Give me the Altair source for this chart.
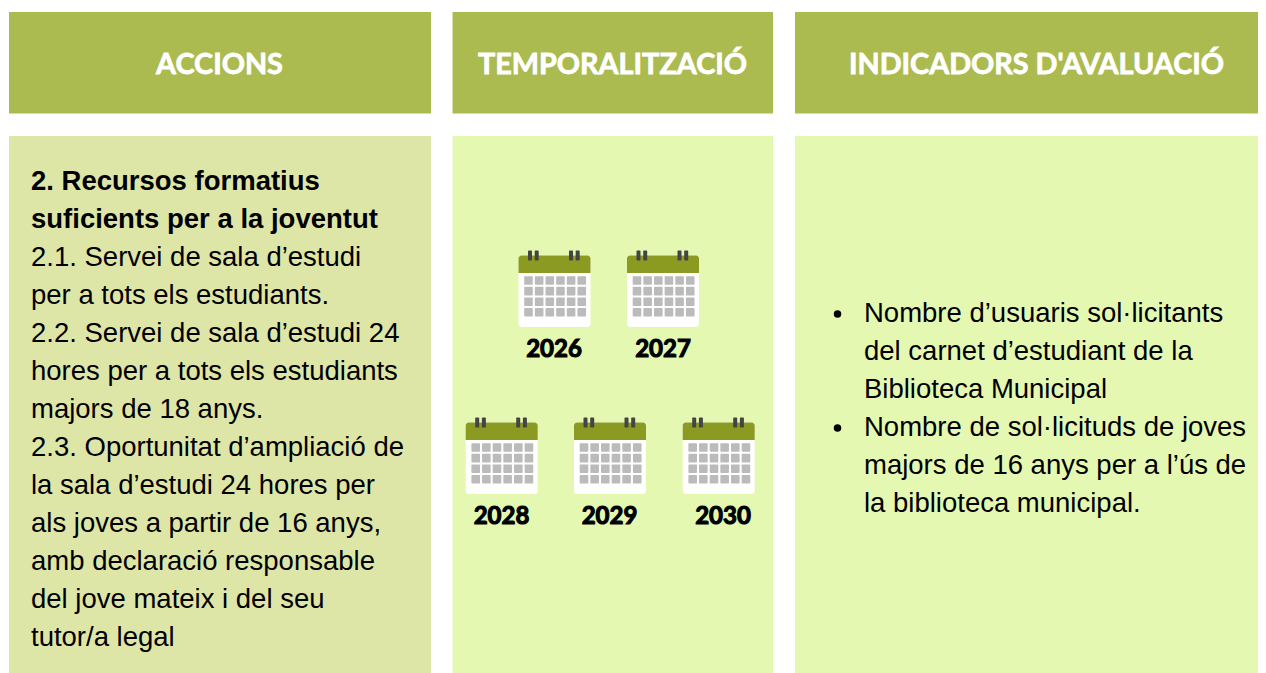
import altair as alt
import pandas as pd

# ---- content ----
headers = ["ACCIONS", "TEMPORALITZACIÓ", "INDICADORS D'AVALUACIÓ"]
action_title = ["2. Recursos formatius", "suficients per a la joventut"]
action_lines = [
    "2.1. Servei de sala d’estudi",
    "per a tots els estudiants.",
    "2.2. Servei de sala d’estudi 24",
    "hores per a tots els estudiants",
    "majors de 18 anys.",
    "2.3. Oportunitat d’ampliació de",
    "la sala d’estudi 24 hores per",
    "als joves a partir de 16 anys,",
    "amb declaració responsable",
    "del jove mateix i del seu",
    "tutor/a legal",
]
indicator_lines = [
    "Nombre d’usuaris sol·licitants",
    "del carnet d’estudiant de la",
    "Biblioteca Municipal",
    "Nombre de sol·licituds de joves",
    "majors de 16 anys per a l’ús de",
    "la biblioteca municipal.",
]
bullet_line_index = [0, 3]
years = ["2026", "2027", "2028", "2029", "2030"]

# ---- layout (page pixels) ----
L, R, T, B = 8, 1258, 8, 673   # the page caps the svg at 1250 px wide
W, H = R - L, B - T
col_edges = [(9, 431), (452.5, 773), (795, 1266)]
head_centres = [219.5, 612.5, 1036.5]
HEAD_TOP, HEAD_BOTTOM, BODY_TOP = 12, 113.5, 136
LINE = 38
cal_origin = [(518.5, 255.5), (627, 255.5), (465.7, 422.5), (574, 422.5), (682.7, 422.5)]
year_pos = [(554, 356.5), (663, 356.5), (501.5, 523.5), (609.5, 523.5), (723, 523.5)]

x_scale = alt.Scale(domain=[L, R], nice=False, zero=False)
y_scale = alt.Scale(domain=[B, T], nice=False, zero=False)
X = alt.X("x:Q", scale=x_scale, axis=None)
Y = alt.Y("y:Q", scale=y_scale, axis=None)


def rects(rows, **mark):
    df = pd.DataFrame(rows, columns=["x", "x2", "y", "y2", "c"])
    return (
        alt.Chart(df)
        .mark_rect(**mark)
        .encode(x=X, x2="x2:Q", y=Y, y2="y2:Q", color=alt.Color("c:N", scale=None))
    )


def texts(rows, **mark):
    df = pd.DataFrame(rows, columns=["x", "y", "t"])
    return alt.Chart(df).mark_text(**mark).encode(x=X, y=Y, text="t:N")


HEAD = "#abbb4f"
panels = [(a, min(b, R), HEAD_TOP, HEAD_BOTTOM, HEAD) for a, b in col_edges]
body_cols = ["#dee6a7", "#e4f8b2", "#e4f8b2"]
panels += [(a, min(b, R), BODY_TOP, B, c) for (a, b), c in zip(col_edges, body_cols)]

cal_white, cal_top, cal_rings, cal_cells = [], [], [], []
for cx, cy in cal_origin:
    cal_white.append((cx, cx + 72, cy, cy + 71.5, "#ffffff"))
    cal_top.append((cx, cx + 72, cy, cy + 17.5, "#8b9a20"))
    for rx in (9.5, 16.2, 50.5, 57.2):
        cal_rings.append((cx + rx, cx + rx + 4, cy - 5, cy + 5, "#444444"))
    for row in range(4):
        for col in range(6):
            gx = cx + 5.7 + col * 10.65
            gy = cy + 20.7 + row * 10.6
            cal_cells.append((gx, gx + 8.6, gy, gy + 8.6, "#bbbbbb"))

head_rows = [(c, 74, t) for c, t in zip(head_centres, headers)]
title_rows = [(31, 190 + i * LINE, t) for i, t in enumerate(action_title)]
action_rows = [(31, 266 + i * LINE, t) for i, t in enumerate(action_lines)]
ind_rows = [(864, 322 + i * LINE, t) for i, t in enumerate(indicator_lines)]
year_rows = [(x, y, t) for (x, y), t in zip(year_pos, years)]
bullets = pd.DataFrame({"x": [837.5] * len(bullet_line_index),
                        "y": [314 + i * LINE for i in bullet_line_index]})

BODY_FONT = "Liberation Sans"
DISPLAY = "Lato"

chart = alt.layer(
    rects(panels),
    rects(cal_white, cornerRadius=3),
    rects(cal_top, cornerRadiusTopLeft=3, cornerRadiusTopRight=3),
    rects(cal_rings, cornerRadius=1),
    rects(cal_cells, cornerRadius=1),
    texts(head_rows, font=DISPLAY, fontSize=28.8, fontWeight="bold", color="white",
          stroke="white", strokeWidth=0.8, align="center", baseline="alphabetic"),
    texts(title_rows, font=BODY_FONT, fontSize=27.5, fontWeight="bold", color="black",
          align="left", baseline="alphabetic"),
    texts(action_rows, font=BODY_FONT, fontSize=27.5, color="black",
          align="left", baseline="alphabetic"),
    texts(ind_rows, font=BODY_FONT, fontSize=27.5, color="black",
          align="left", baseline="alphabetic"),
    texts(year_rows, font=DISPLAY, fontSize=24, fontWeight="bold", color="black",
          stroke="black", strokeWidth=1.1, align="center", baseline="alphabetic"),
    alt.Chart(bullets).mark_circle(size=56, color="black", opacity=1).encode(x=X, y=Y),
).properties(width=W, height=H, padding=0, background="white").configure_view(stroke=None)

chart.save("out.html", embed_options={"renderer": "svg", "actions": False})
